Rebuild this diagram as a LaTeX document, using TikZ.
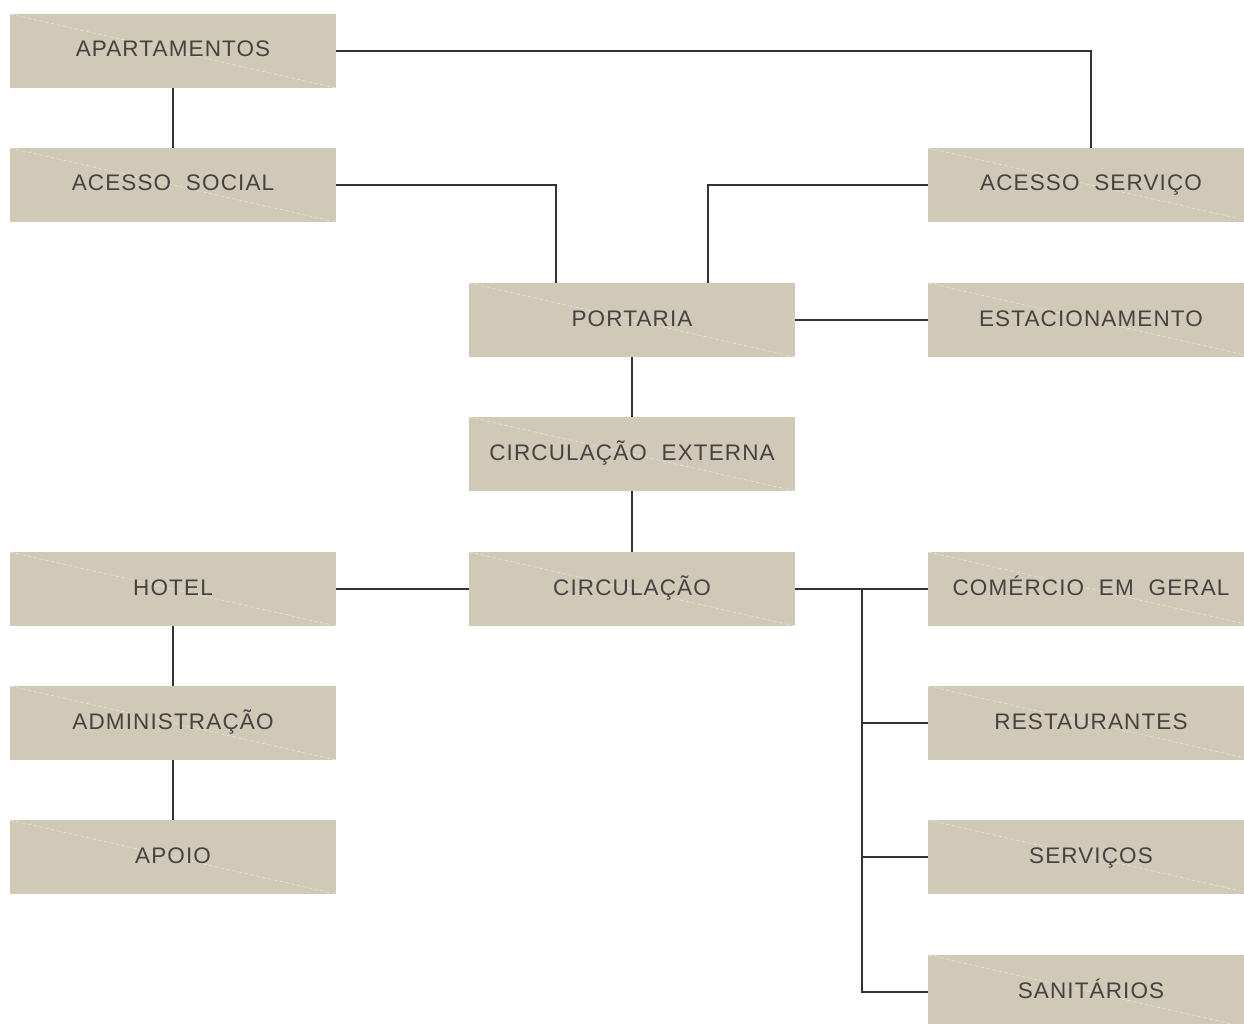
\documentclass[tikz,border=0pt]{standalone}
\usepackage{fontspec}
\setmainfont{Liberation Sans}
\newfontfamily\boxfont[LetterSpace=5]{Liberation Sans}
\definecolor{boxfill}{HTML}{D0C9B7}
\definecolor{diag}{HTML}{E9E4D8}
\definecolor{txt}{HTML}{464242}
\definecolor{wire}{HTML}{333333}
\begin{document}
\begin{tikzpicture}[x=1pt,y=-1pt,
  box/.style={fill=boxfill, draw=none, minimum width=326pt, minimum height=74pt, inner sep=0pt,
    text height=12pt, text depth=0pt, text=txt,
    font=\boxfont\fontsize{22.5}{26}\selectfont,
    path picture={\draw[diag, dashed, dash pattern=on 4pt off 2pt, line width=0.6pt]
      (path picture bounding box.north west) -- (path picture bounding box.south east);}},
  wirel/.style={draw=wire, line width=1.1pt}]
\useasboundingbox (0,0) rectangle (1244,1024);
\clip (0,0) rectangle (1244,1024);
% left column
\node[box] (apt) at (173,51) {APARTAMENTOS};
\node[box] (soc) at (173,185) {ACESSO\ \ SOCIAL};
\node[box] (hot) at (173,589) {HOTEL};
\node[box] (adm) at (173,723) {ADMINISTRAÇÃO};
\node[box] (apo) at (173,857) {APOIO};
% middle column
\node[box] (por) at (632,320) {PORTARIA};
\node[box] (cex) at (632,454) {CIRCULAÇÃO\ \ EXTERNA};
\node[box] (cir) at (632,589) {CIRCULAÇÃO};
% right column
\node[box] (ser) at (1091,185) {ACESSO\ \ SERVIÇO};
\node[box] (est) at (1091,320) {ESTACIONAMENTO};
\node[box] (com) at (1091,589) {COMÉRCIO\ \ EM\ \ GERAL};
\node[box] (res) at (1091,723) {RESTAURANTES};
\node[box] (svc) at (1091,857) {SERVIÇOS};
\node[box] (san) at (1091,992) {SANITÁRIOS};
% connectors
\draw[wirel] (apt.east) -| (ser.north);
\draw[wirel] (apt.south) -- (soc.north);
\draw[wirel] (soc.east) -| ([xshift=-76pt]por.north);
\draw[wirel] (ser.west) -| ([xshift=76pt]por.north);
\draw[wirel] (por.east) -- (est.west);
\draw[wirel] (por.south) -- (cex.north);
\draw[wirel] (cex.south) -- (cir.north);
\draw[wirel] (hot.east) -- (cir.west);
\draw[wirel] (hot.south) -- (adm.north);
\draw[wirel] (adm.south) -- (apo.north);
\draw[wirel] (cir.east) -- (com.west);
\coordinate (br) at (862,589);
\draw[wirel] (br) |- (san.west);
\draw[wirel] (br |- res.west) -- (res.west);
\draw[wirel] (br |- svc.west) -- (svc.west);
\end{tikzpicture}
\end{document}
